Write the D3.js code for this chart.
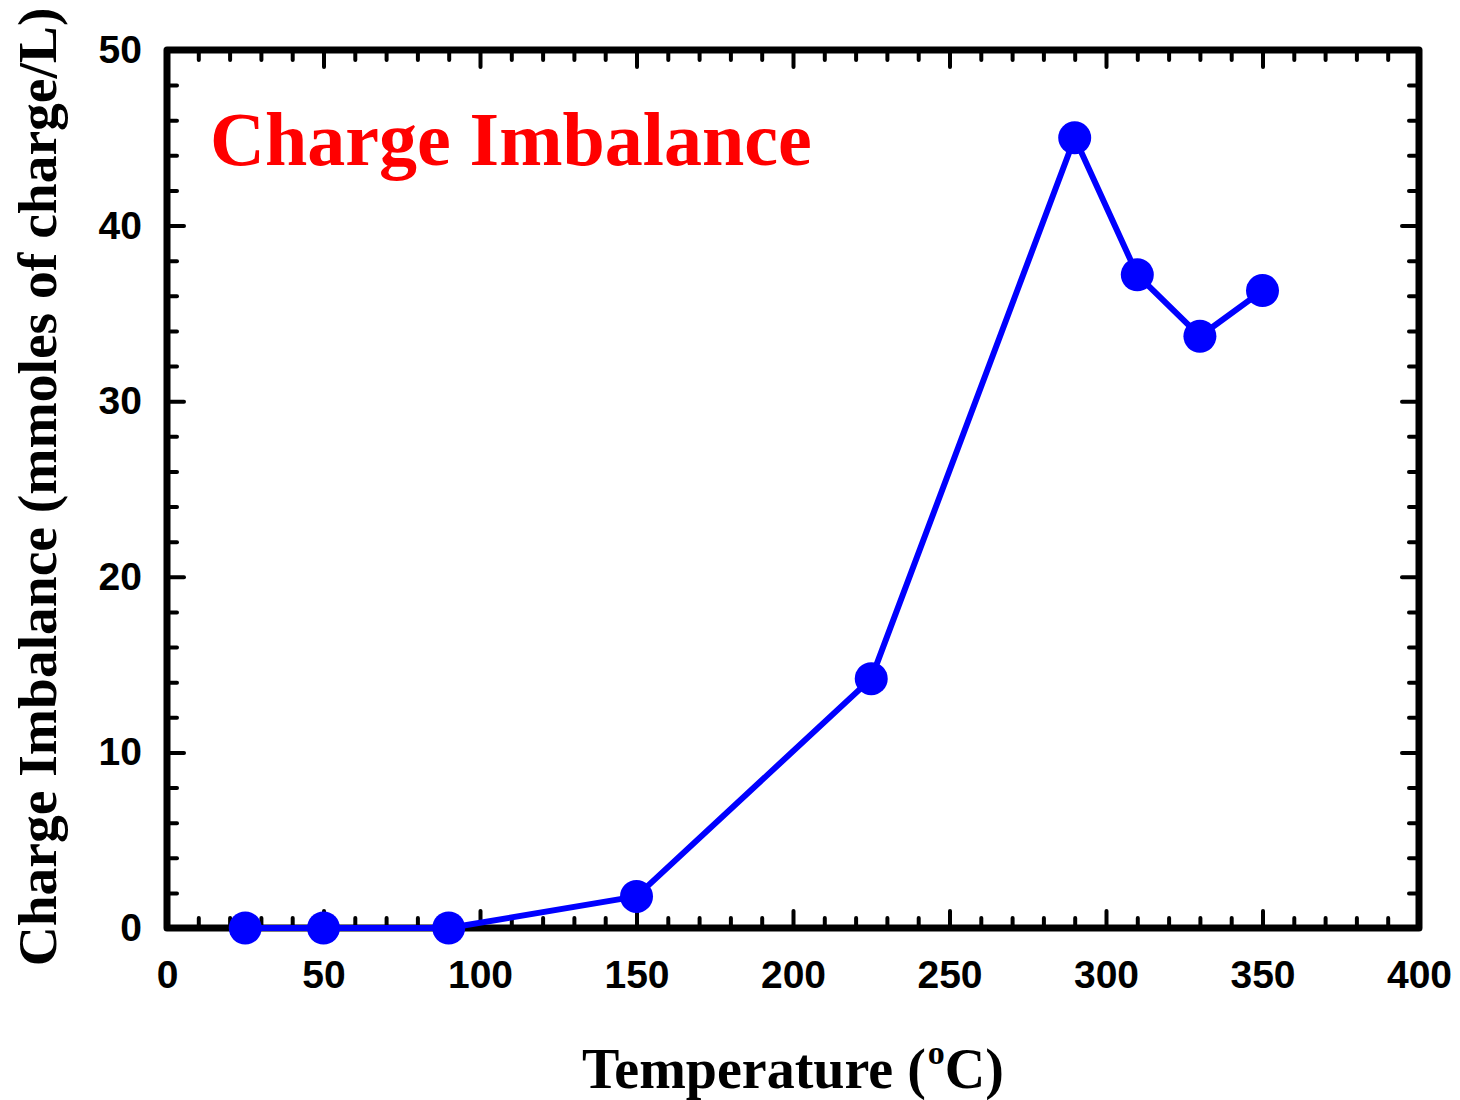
<!DOCTYPE html>
<html>
<head>
<meta charset="utf-8">
<style>
  body { margin: 0; background: #fff; }
  .tick text { font-family: "Liberation Sans", Arial, sans-serif; font-weight: bold; font-size: 39px; fill: #000; }
  .tick line { stroke: #000; stroke-width: 4; stroke-linecap: round; }
  .domain { display: none; }
</style>
</head>
<body>
<svg width="1460" height="1100"></svg>
<script src="https://cdnjs.cloudflare.com/ajax/libs/d3/7.8.5/d3.min.js"></script>
<script>
// data
var temps = [25, 50, 90, 150, 225, 290, 310, 330, 350];
var imbalance = [0, 0, 0, 1.8, 14.2, 45.0, 37.2, 33.7, 36.3];
var xTicks = [0, 50, 100, 150, 200, 250, 300, 350, 400];
var yTicks = [0, 10, 20, 30, 40, 50];

var svg = d3.select("svg"),
  margin = { top: 50, right: 41, bottom: 172, left: 167 },
  width = +svg.attr("width") - margin.left - margin.right,
  height = +svg.attr("height") - margin.top - margin.bottom;

var x = d3.scaleLinear().domain([0, 400]).range([0, width]),
  y = d3.scaleLinear().domain([0, 50]).range([height, 0]);

var g = svg.append("g")
  .attr("transform", "translate(" + margin.left + "," + margin.top + ")");

var xMinor = d3.range(0, 401, 10).filter(function(v) { return v % 50 !== 0; });
var yMinor = d3.range(0, 51, 2).filter(function(v) { return v % 10 !== 0; });

// minor ticks on all four sides
g.append("g").attr("transform", "translate(0," + height + ")")
  .call(d3.axisBottom(x).tickValues(xMinor).tickSize(-10).tickFormat(""));
g.append("g")
  .call(d3.axisTop(x).tickValues(xMinor).tickSize(-10).tickFormat(""));
g.append("g")
  .call(d3.axisLeft(y).tickValues(yMinor).tickSize(-10).tickFormat(""));
g.append("g").attr("transform", "translate(" + width + ",0)")
  .call(d3.axisRight(y).tickValues(yMinor).tickSize(-10).tickFormat(""));

// major ticks
g.append("g").attr("transform", "translate(0," + height + ")")
  .call(d3.axisBottom(x).tickValues(xTicks).tickSize(-17).tickPadding(32).tickFormat(d3.format("d")));
g.append("g")
  .call(d3.axisTop(x).tickValues(xTicks).tickSize(-17).tickFormat(""));
g.append("g")
  .call(d3.axisLeft(y).tickValues(yTicks).tickSize(-17).tickPadding(25).tickFormat(d3.format("d")));
g.append("g").attr("transform", "translate(" + width + ",0)")
  .call(d3.axisRight(y).tickValues(yTicks).tickSize(-17).tickFormat(""));

// frame
g.append("rect")
  .attr("width", width)
  .attr("height", height)
  .attr("fill", "none")
  .attr("stroke", "#000")
  .attr("stroke-width", 7)
  .attr("stroke-linejoin", "round");

var pts = temps.map(function(t, i) { return [t, imbalance[i]]; });

g.append("path")
  .datum(pts)
  .attr("fill", "none")
  .attr("stroke", "#0000ff")
  .attr("stroke-width", 6)
  .attr("stroke-linejoin", "round")
  .attr("d", d3.line()
    .x(function(d) { return x(d[0]); })
    .y(function(d) { return y(d[1]); }));

g.selectAll(".dot")
  .data(pts)
  .enter().append("circle")
  .attr("class", "dot")
  .attr("cx", function(d) { return x(d[0]); })
  .attr("cy", function(d) { return y(d[1]); })
  .attr("r", 16.5)
  .attr("fill", "#0000ff");

// title inside the plot
svg.append("text")
  .attr("x", 210)
  .attr("y", 165)
  .attr("fill", "#ff0000")
  .style("font-family", "'Liberation Serif', 'Times New Roman', serif")
  .style("font-weight", "bold")
  .style("font-size", "76px")
  .text("Charge Imbalance");

// axis titles
var xt = svg.append("text")
  .attr("x", margin.left + width / 2)
  .attr("y", 1088)
  .attr("text-anchor", "middle")
  .style("font-family", "'Liberation Serif', 'Times New Roman', serif")
  .style("font-weight", "bold")
  .style("font-size", "56px");
xt.append("tspan").text("Temperature (");
xt.append("tspan").attr("dy", "-24").attr("dx", "2").style("font-size", "34px").text("o");
xt.append("tspan").attr("dy", "24").text("C)");

svg.append("text")
  .attr("transform", "translate(56," + (margin.top + height / 2 - 2) + ") rotate(-90)")
  .attr("text-anchor", "middle")
  .style("font-family", "'Liberation Serif', 'Times New Roman', serif")
  .style("font-weight", "bold")
  .style("font-size", "55.5px")
  .text("Charge Imbalance (mmoles of charge/L)");
</script>
</body>
</html>
